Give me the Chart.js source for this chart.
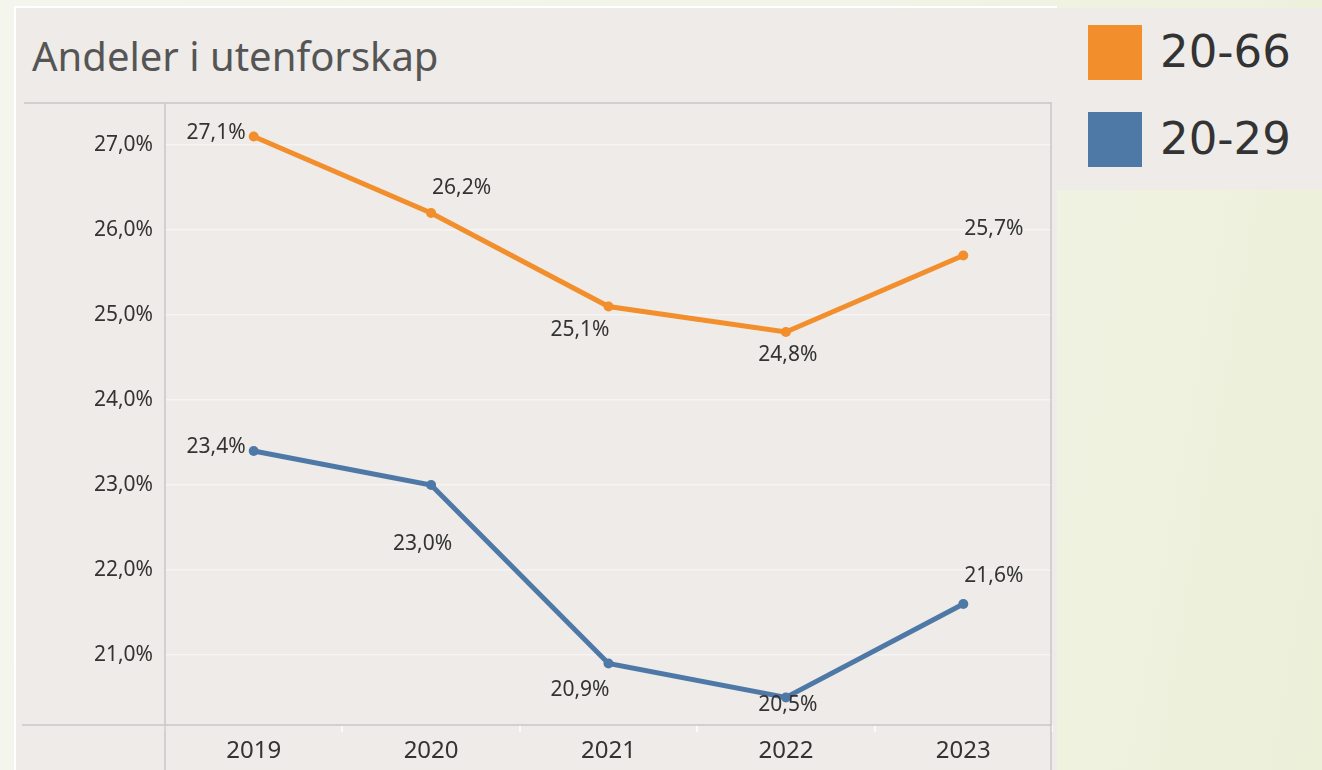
<!DOCTYPE html>
<html>
<head>
<meta charset="utf-8">
<script src="https://cdn.jsdelivr.net/npm/chart.js@4.4.1/dist/chart.umd.min.js"></script>
<style>
  body { margin: 0; width: 1322px; height: 770px; overflow: hidden;
         background: linear-gradient(100deg, #f4f6ee 0%, #f1f4e6 60%, #ecf0d9 100%); }
  #panel { position: absolute; left: 14px; top: 6px; width: 1041px; height: 764px;
           background: #eeebe8; border-top: 2px solid #fff; border-left: 2px solid #fff; }
  #title { position: absolute; left: 32px; top: 36px; font: 40px "Noto Sans", sans-serif;
           line-height: 40px; color: #555; white-space: nowrap; }
  #chartBox { position: absolute; left: 14px; top: 6px; width: 1043px; height: 764px; }
  #legend { position: absolute; left: 1057px; top: 8px; width: 265px; height: 182px;
            background: #eeebe8; }
  .item { position: absolute; left: 31px; height: 55px; }
  .sw { position: absolute; left: 0; top: 0; width: 54px; height: 55px; }
  .lbl { position: absolute; left: 72px; top: -3px; font: 45px "DejaVu Sans", sans-serif;
         color: #333; white-space: nowrap; line-height: 60px; }
</style>
</head>
<body>
<div id="panel"></div>
<div id="title">Andeler i utenforskap</div>
<div id="chartBox"><canvas id="myChart" width="1043" height="764"></canvas></div>
<div id="legend"></div>
<script>
var years = ['2019', '2020', '2021', '2022', '2023'];
var label1 = '20-66';
var values1 = [27.1, 26.2, 25.1, 24.8, 25.7];
var label2 = '20-29';
var values2 = [23.4, 23.0, 20.9, 20.5, 21.6];
var yTicks = [21, 22, 23, 24, 25, 26, 27];

var orange = '#f28e2b';
var blue = '#4e79a7';

// where each value label sits relative to its point: [dx, dy, align]
var place1 = [[-8, -3, 'right'], [1, -25, 'left'], [1, 24, 'right'], [2, 23, 'center'], [1, -26, 'left']];
var place2 = [[-8, -4, 'right'], [21, 59, 'right'], [1, 27, 'right'], [2, 8, 'center'], [1, -28, 'left']];

function pct(v) {
    return v.toFixed(1).replace('.', ',') + '%';
}

// legend built from the series
[[label1, orange, 17], [label2, blue, 104]].forEach(function (it) {
    var d = document.createElement('div');
    d.className = 'item';
    d.style.top = it[2] + 'px';
    d.innerHTML = '<div class="sw" style="background:' + it[1] + '"></div><div class="lbl">' + it[0] + '</div>';
    document.getElementById('legend').appendChild(d);
});

// pane borders like the original dashboard
var borders = {
    id: 'borders',
    beforeDatasetsDraw: function (chart) {
        var c = chart.ctx, a = chart.chartArea;
        c.save();
        c.strokeStyle = '#c8c8c8';
        c.lineWidth = 1.5;
        c.beginPath();
        c.moveTo(10, a.top); c.lineTo(a.right, a.top);
        c.moveTo(8, a.bottom); c.lineTo(a.right, a.bottom);
        c.moveTo(a.left, a.top); c.lineTo(a.left, chart.height);
        c.moveTo(a.right - 1, a.top); c.lineTo(a.right - 1, chart.height);
        c.stroke();
        c.restore();
    }
};

var valueLabels = {
    id: 'valueLabels',
    afterDatasetsDraw: function (chart) {
        var c = chart.ctx;
        var places = [place1, place2];
        c.save();
        c.font = '21px "Noto Sans", sans-serif';
        c.fillStyle = '#333';
        c.textBaseline = 'middle';
        chart.data.datasets.forEach(function (ds, i) {
            chart.getDatasetMeta(i).data.forEach(function (pt, j) {
                var p = places[i][j];
                c.textAlign = p[2];
                c.fillText(pct(ds.data[j]), pt.x + p[0], pt.y + p[1]);
            });
        });
        c.restore();
    }
};

var ctx = document.getElementById('myChart').getContext('2d');
var myChart = new Chart(ctx, {
    type: 'line',
    data: {
        labels: years,
        datasets: [
            {
                label: label1,
                data: values1,
                borderColor: orange,
                backgroundColor: orange,
                borderWidth: 5,
                pointRadius: 5,
                pointBorderWidth: 0
            },
            {
                label: label2,
                data: values2,
                borderColor: blue,
                backgroundColor: blue,
                borderWidth: 5,
                pointRadius: 5,
                pointBorderWidth: 0
            }
        ]
    },
    options: {
        responsive: false,
        animation: false,
        layout: { padding: { top: 97, right: 0, left: 0, bottom: 0 } },
        plugins: {
            legend: { display: false },
            tooltip: { enabled: false }
        },
        scales: {
            x: {
                offset: true,
                border: { display: false },
                grid: {
                    offset: true,
                    drawOnChartArea: false,
                    color: '#fbfaf8',
                    lineWidth: 2,
                    tickLength: 7
                },
                ticks: {
                    color: '#333',
                    padding: 5,
                    font: { family: 'Noto Sans', size: 24 }
                },
                afterFit: function (s) { s.height = 45; }
            },
            y: {
                min: 20.176,
                max: 27.494,
                border: { display: false },
                grid: {
                    color: 'rgba(255,255,255,0.5)',
                    lineWidth: 1.5,
                    drawTicks: false
                },
                ticks: {
                    color: '#333',
                    padding: 12,
                    font: { family: 'Noto Sans', size: 21 },
                    callback: function (v) { return pct(v); }
                },
                afterBuildTicks: function (s) {
                    s.ticks = yTicks.map(function (v) { return { value: v }; });
                },
                afterFit: function (s) { s.width = 151; }
            }
        }
    },
    plugins: [borders, valueLabels]
});
</script>
</body>
</html>
